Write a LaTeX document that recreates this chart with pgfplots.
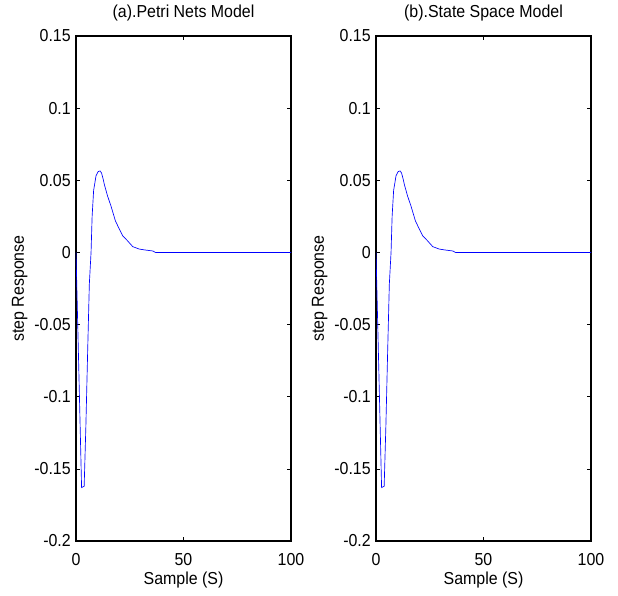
\documentclass[border=0pt]{standalone}
\usepackage{fontspec}
\setmainfont[FakeStretch=0.92]{Liberation Sans}
\usepackage{pgfplots}
\pgfplotsset{compat=1.18}

% same step response, drawn in both panels
\pgfplotstableread{
x y
0 0
1 -0.062
2 -0.125
2.6 -0.163
3.8 -0.162
4.6 -0.12
5.4 -0.07
6.2 -0.022
7 0.0
7.5 0.025
8.2 0.043
9.3 0.053
10.3 0.056
11.2 0.0565
11.9 0.055
12.6 0.051
13.2 0.047
14.7 0.039
16.3 0.032
17.3 0.027
18.3 0.022
20.2 0.016
21.7 0.0116
24 0.008
26.4 0.004
29.5 0.0023
32.6 0.0016
35.7 0.001
37 0
100 0
}\resp

\pgfplotsset{
  mlpanel/.style={
    scale only axis, width=161.25pt, height=378.75pt,
    anchor=south west,
    xmin=0, xmax=100, ymin=-0.2, ymax=0.15,
    xtick={0,50,100}, xticklabels={0,50,100},
    ytick={-0.2,-0.15,-0.1,-0.05,0,0.05,0.1,0.15},
    yticklabels={{-0.2},{-0.15},{-0.1},{-0.05},{0},{0.05},{0.1},{0.15}},
    tick align=inside, major tick length=3pt,
    axis line style={line width=0.8pt},
    every tick/.style={black, line width=0.5pt},
    xticklabel style={font=\fontsize{13}{15}\selectfont, anchor=base, yshift=-18.75pt},
    yticklabel style={font=\fontsize{13}{15}\selectfont, inner sep=0pt, xshift=-3.75pt},
    xlabel={Sample (S)}, ylabel={step Response},
    xlabel style={font=\fontsize{13}{15}\selectfont, at={(axis description cs:0.5,-0.0871)}, anchor=base},
    ylabel style={font=\fontsize{13}{15}\selectfont, at={(axis description cs:-0.2419,0.5)}, anchor=base, rotate=0},
    title style={font=\fontsize{13}{15}\selectfont, at={(axis description cs:0.5,1.0198)}, anchor=base},
  }
}

\begin{document}
\begin{tikzpicture}
\useasboundingbox (0,0) rectangle (463.5pt,447pt);
\begin{axis}[mlpanel, at={(57pt,41.25pt)}, title={(a).Petri Nets Model}]
  \addplot[blue, line width=0.5pt, mark=none] table[x=x,y=y] {\resp};
\end{axis}
\begin{axis}[mlpanel, at={(282pt,41.25pt)}, title={(b).State Space Model}]
  \addplot[blue, line width=0.5pt, mark=none] table[x=x,y=y] {\resp};
\end{axis}
\end{tikzpicture}
\end{document}
